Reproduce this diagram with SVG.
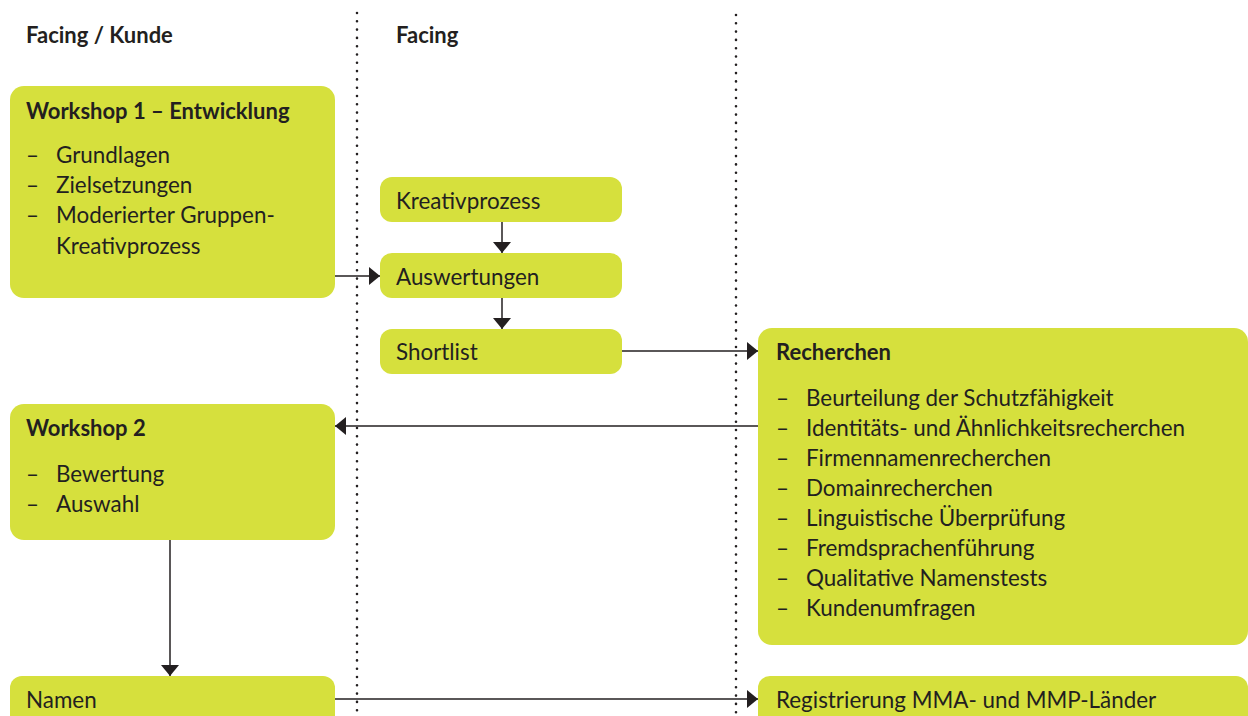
<svg xmlns="http://www.w3.org/2000/svg" width="1248" height="716" viewBox="0 0 1248 716">
<defs>
<style>
.box{fill:#d6e03d;}
.t{font-family:Lato,"Liberation Sans",sans-serif;font-size:22.4px;font-weight:400;fill:#231f20;}
.b{font-weight:bold;font-size:22px;}
.conn{stroke:#231f20;stroke-width:1.5;fill:none;}
.dot{stroke:#231f20;stroke-width:2.6;stroke-linecap:round;stroke-dasharray:0 8.3;fill:none;}
</style>
<marker id="ah" viewBox="0 0 11 18" refX="11" refY="9" markerWidth="11" markerHeight="18" markerUnits="userSpaceOnUse" orient="auto">
<path d="M0,0 L11,9 L0,18 Z" fill="#231f20"/>
</marker>
</defs>
<rect width="1248" height="716" fill="#ffffff"/>
<g id="lanes">
<line class="dot" x1="357" y1="13" x2="357" y2="716"/>
<line class="dot" x1="736" y1="15" x2="736" y2="716"/>
<text class="t b" x="26" y="43">Facing / Kunde</text>
<text class="t b" x="396" y="43">Facing</text>
</g>
<g id="connectors">
<line class="conn" x1="335" y1="276" x2="380" y2="276" marker-end="url(#ah)"/>
<line class="conn" x1="502" y1="222" x2="502" y2="253" marker-end="url(#ah)"/>
<line class="conn" x1="502" y1="298" x2="502" y2="329" marker-end="url(#ah)"/>
<line class="conn" x1="622" y1="351" x2="758" y2="351" marker-end="url(#ah)"/>
<line class="conn" x1="758" y1="426" x2="335" y2="426" marker-end="url(#ah)"/>
<line class="conn" x1="170" y1="540" x2="170" y2="676" marker-end="url(#ah)"/>
<line class="conn" x1="335" y1="699" x2="758" y2="699" marker-end="url(#ah)"/>
</g>
<g id="workshop1">
<rect class="box" x="10" y="86" width="325" height="212" rx="14"/>
<text class="t b" x="26" y="119">Workshop 1 – Entwicklung</text>
<text class="t" x="26" y="163">–</text><text class="t" x="56" y="163">Grundlagen</text>
<text class="t" x="26" y="193">–</text><text class="t" x="56" y="193">Zielsetzungen</text>
<text class="t" x="26" y="223">–</text><text class="t" x="56" y="223">Moderierter Gruppen-</text>
<text class="t" x="56" y="254">Kreativprozess</text>
</g>
<g id="kreativprozess">
<rect class="box" x="380" y="177" width="242" height="45" rx="12"/>
<text class="t" x="396" y="209">Kreativprozess</text>
</g>
<g id="auswertungen">
<rect class="box" x="380" y="253" width="242" height="45" rx="12"/>
<text class="t" x="396" y="285">Auswertungen</text>
</g>
<g id="shortlist">
<rect class="box" x="380" y="329" width="242" height="45" rx="12"/>
<text class="t" x="396" y="360">Shortlist</text>
</g>
<g id="recherchen">
<rect class="box" x="758" y="328" width="490" height="317" rx="14"/>
<text class="t b" x="776" y="360">Recherchen</text>
<text class="t" x="776" y="406">–</text><text class="t" x="806" y="406">Beurteilung der Schutzfähigkeit</text>
<text class="t" x="776" y="436">–</text><text class="t" x="806" y="436">Identitäts- und Ähnlichkeitsrecherchen</text>
<text class="t" x="776" y="466">–</text><text class="t" x="806" y="466">Firmennamenrecherchen</text>
<text class="t" x="776" y="496">–</text><text class="t" x="806" y="496">Domainrecherchen</text>
<text class="t" x="776" y="526">–</text><text class="t" x="806" y="526">Linguistische Überprüfung</text>
<text class="t" x="776" y="556">–</text><text class="t" x="806" y="556">Fremdsprachenführung</text>
<text class="t" x="776" y="586">–</text><text class="t" x="806" y="586">Qualitative Namenstests</text>
<text class="t" x="776" y="616">–</text><text class="t" x="806" y="616">Kundenumfragen</text>
</g>
<g id="workshop2">
<rect class="box" x="10" y="404" width="325" height="136" rx="14"/>
<text class="t b" x="26" y="436">Workshop 2</text>
<text class="t" x="26" y="482">–</text><text class="t" x="56" y="482">Bewertung</text>
<text class="t" x="26" y="512">–</text><text class="t" x="56" y="512">Auswahl</text>
</g>
<g id="namen">
<rect class="box" x="10" y="676" width="325" height="60" rx="12"/>
<text class="t" x="26" y="708">Namen</text>
</g>
<g id="registrierung">
<rect class="box" x="758" y="676" width="490" height="60" rx="12"/>
<text class="t" x="776" y="708">Registrierung MMA- und MMP-Länder</text>
</g>
</svg>
